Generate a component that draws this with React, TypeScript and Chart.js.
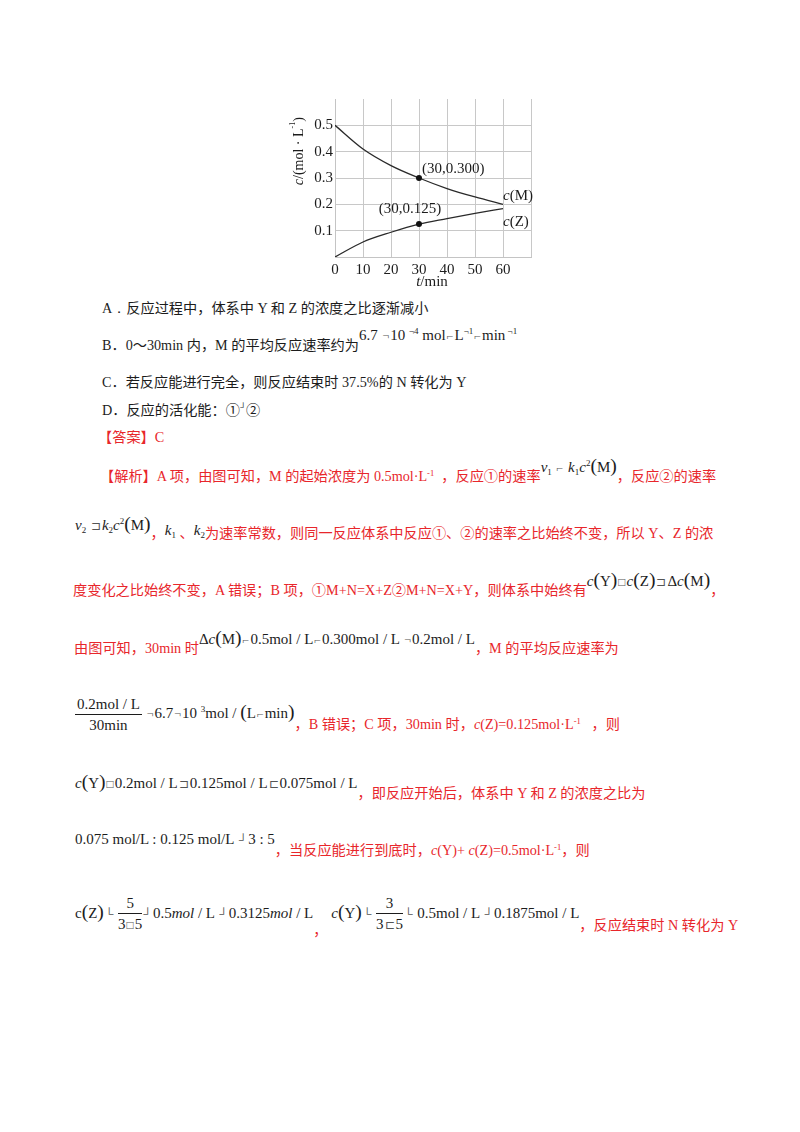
import { useEffect, useRef } from 'react';
import { Chart, registerables } from 'chart.js';

Chart.register(...registerables);

// values
const times = [0, 10, 20, 30, 40, 50, 60];
const concM = [0.5, 0.41, 0.347, 0.3, 0.26, 0.228, 0.2];
const concZ = [0, 0.057, 0.094, 0.125, 0.146, 0.166, 0.184];
const xTickLabels = [0, 10, 20, 30, 40, 50, 60];
const yTickLabels = [0.1, 0.2, 0.3, 0.4, 0.5];
const markedTime = 30;

const SERIF = "'Liberation Serif', 'Times New Roman', serif";
const FONT = "'Liberation Serif', 'Noto Sans CJK SC', serif";
const RED = '#e8262b';
const INK = '#1c1c1c';

type Part = { t: string; s?: 'i' | 'sup' };

function drawRich(ctx: CanvasRenderingContext2D, parts: Part[], x: number, y: number, size: number, align: 'left' | 'center') {
  const fontFor = (p: Part) => `${p.s === 'i' ? 'italic ' : ''}${p.s === 'sup' ? Math.round(size * 0.6) : size}px ${SERIF}`;
  let w = 0;
  parts.forEach(p => { ctx.font = fontFor(p); w += ctx.measureText(p.t).width; });
  let cx = align === 'center' ? x - w / 2 : x;
  ctx.textAlign = 'left';
  ctx.textBaseline = 'middle';
  parts.forEach(p => {
    ctx.font = fontFor(p);
    ctx.fillText(p.t, cx, p.s === 'sup' ? y - size * 0.4 : y);
    cx += ctx.measureText(p.t).width;
  });
}

const labelPlugin = {
  id: 'curveLabels',
  afterDatasetsDraw(chart: any) {
    const { ctx, chartArea, scales } = chart;
    const xs = scales.x;
    const ys = scales.y;
    const i = times.indexOf(markedTime);
    const last = times.length - 1;
    ctx.save();
    ctx.fillStyle = INK;
    drawRich(ctx, [{ t: `(${markedTime},${concM[i].toFixed(3)})` }], xs.getPixelForValue(markedTime) + 3, ys.getPixelForValue(concM[i]) - 9, 15, 'left');
    drawRich(ctx, [{ t: `(${markedTime},${concZ[i].toFixed(3)})` }], xs.getPixelForValue(markedTime) - 9, ys.getPixelForValue(concZ[i]) - 15, 15, 'center');
    drawRich(ctx, [{ t: 'c', s: 'i' }, { t: '(M)' }], xs.getPixelForValue(times[last]), ys.getPixelForValue(concM[last]) - 8, 15, 'left');
    drawRich(ctx, [{ t: 'c', s: 'i' }, { t: '(Z)' }], xs.getPixelForValue(times[last]), ys.getPixelForValue(concZ[last]) + 14, 15, 'left');

    drawRich(ctx, [{ t: 't', s: 'i' }, { t: '/min' }], (chartArea.left + chartArea.right) / 2 - 1, chartArea.bottom + 25, 15, 'center');
    ctx.translate(chartArea.left - 36, chartArea.top + (chartArea.bottom - chartArea.top) * 0.33);
    ctx.rotate(-Math.PI / 2);
    drawRich(ctx, [{ t: 'c', s: 'i' }, { t: '/(mol · L' }, { t: '-1', s: 'sup' }, { t: ')' }], 0, 0, 14, 'center');
    ctx.restore();
  },
};

function ConcentrationChart() {
  const canvasRef = useRef<HTMLCanvasElement>(null);
  const chartRef = useRef<Chart | null>(null);

  useEffect(() => {
    if (!canvasRef.current) return;
    const ctx = canvasRef.current.getContext('2d');
    if (!ctx) return;
    if (chartRef.current) chartRef.current.destroy();

    const pointSize = (c: any) => (times[c.dataIndex] === markedTime ? 3 : 0);

    chartRef.current = new Chart(ctx, {
      type: 'line',
      data: {
        datasets: [
          {
            label: 'c(M)',
            data: times.map((t, k) => ({ x: t, y: concM[k] })),
            borderColor: '#2a2a2a',
            borderWidth: 1.3,
            cubicInterpolationMode: 'monotone',
            pointRadius: pointSize,
            pointBackgroundColor: '#111',
            pointBorderWidth: 0,
          },
          {
            label: 'c(Z)',
            data: times.map((t, k) => ({ x: t, y: concZ[k] })),
            borderColor: '#2a2a2a',
            borderWidth: 1.3,
            cubicInterpolationMode: 'monotone',
            pointRadius: pointSize,
            pointBackgroundColor: '#111',
            pointBorderWidth: 0,
          },
        ],
      },
      options: {
        animation: false,
        responsive: true,
        maintainAspectRatio: false,
        layout: { padding: { top: 7, right: 7, left: 0, bottom: 0 } },
        plugins: {
          legend: { display: false },
          tooltip: { enabled: false },
        },
        scales: {
          x: {
            type: 'linear',
            min: 0,
            max: 70,
            afterFit: (s: any) => { s.height = 31; },
            border: { color: '#c4c4c4' },
            grid: { color: '#c8c8c8', drawTicks: false },
            ticks: {
              stepSize: 10,
              padding: 4,
              color: INK,
              maxRotation: 0,
              font: { family: SERIF, size: 15 },
              callback: (v: any) => (xTickLabels.includes(Number(v)) ? String(v) : ''),
            },
          },
          y: {
            min: 0,
            max: 0.6,
            afterFit: (s: any) => { s.width = 47; },
            border: { color: '#c4c4c4' },
            grid: {
              drawTicks: false,
              color: (c: any) => (c.tick && c.tick.value > 0.55 ? 'rgba(0,0,0,0)' : '#c8c8c8'),
            },
            ticks: {
              stepSize: 0.1,
              padding: 2,
              color: INK,
              font: { family: SERIF, size: 15 },
              callback: (v: any) => (yTickLabels.some(t => Math.abs(t - Number(v)) < 1e-6) ? Number(v).toFixed(1) : ''),
            },
          },
        },
      },
      plugins: [labelPlugin],
    });

    return () => {
      if (chartRef.current) {
        chartRef.current.destroy();
        chartRef.current = null;
      }
    };
  }, []);

  return (
    <div style={{ position: 'absolute', left: 288, top: 88, width: 250, height: 200 }}>
      <canvas ref={canvasRef}></canvas>
    </div>
  );
}

// ---- text helpers ----
function Line({ y, x, children }: { y: number; x: number; children: any }) {
  return (
    <div style={{ position: 'absolute', top: y - 10, left: x, height: 20, display: 'flex', alignItems: 'center', whiteSpace: 'pre', fontFamily: FONT, fontSize: 14.2, lineHeight: '20px' }}>
      {children}
    </div>
  );
}
function R({ children, dy = 0 }: { children: any; dy?: number }) {
  return <span style={{ color: RED, transform: `translateY(${dy}px)` }}>{children}</span>;
}
function F({ children, dy = 0 }: { children: any; dy?: number }) {
  return <span style={{ color: INK, fontFamily: SERIF, fontSize: 15, transform: `translateY(${dy}px)` }}>{children}</span>;
}
function K({ children, color = INK }: { children: any; color?: string }) {
  return <span style={{ color, fontFamily: SERIF }}>{children}</span>;
}
const I = ({ children }: { children: any }) => <i style={{ fontFamily: SERIF, fontStyle: 'italic' }}>{children}</i>;
const Sup = ({ children }: { children: any }) => (
  <span style={{ fontSize: '0.6em', position: 'relative', top: '-0.6em', lineHeight: 0 }}>{children}</span>
);
const Sub = ({ children }: { children: any }) => (
  <span style={{ fontSize: '0.6em', position: 'relative', top: '0.35em', lineHeight: 0 }}>{children}</span>
);
const P = ({ children }: { children: any }) => <span style={{ fontSize: '1.3em', lineHeight: 0 }}>{children}</span>;
const G = ({ children }: { children: any }) => <span style={{ fontSize: '0.8em', color: '#555', margin: '0 1px' }}>{children}</span>;
function Frac({ n, d, dy = 0 }: { n: any; d: any; dy?: number }) {
  return (
    <span style={{ display: 'inline-flex', flexDirection: 'column', alignItems: 'center', color: INK, fontFamily: SERIF, fontSize: 15, lineHeight: '18px', transform: `translateY(${dy}px)` }}>
      <span style={{ padding: '0 2px 1px' }}>{n}</span>
      <span style={{ borderTop: `1px solid ${INK}`, alignSelf: 'stretch', textAlign: 'center', paddingTop: 1 }}>{d}</span>
    </span>
  );
}

export default function App() {
  return (
    <div style={{ position: 'absolute', left: 0, top: 0, width: 800, height: 1132, background: '#fff', overflow: 'hidden' }}>
      <ConcentrationChart />

      <Line y={308} x={102}><K>A．</K><span style={{ color: INK }}>反应过程中，体系中 Y 和 Z 的浓度之比逐渐减小</span></Line>
      <Line y={345} x={102}>
        <span style={{ color: INK }}>B．0～30min 内，M 的平均反应速率约为</span>
        <F dy={-10}>6.7 <G>¬</G>10 <Sup>¬4</Sup> mol<G>⌐</G>L<Sup>¬1</Sup><G>⌐</G>min<Sup> ¬1</Sup></F>
      </Line>
      <Line y={382} x={102}><span style={{ color: INK }}>C．若反应能进行完全，则反应结束时 37.5%的 N 转化为 Y</span></Line>
      <Line y={410} x={102}><span style={{ color: INK }}>D．反应的活化能：①<Sup>┘</Sup>②</span></Line>
      <Line y={437} x={98}><R>【答案】C</R></Line>

      <Line y={476} x={100}>
        <R>【解析】A 项，由图可知，M 的起始浓度为 0.5mol·L<Sup>-1</Sup>  ，反应①的速率</R>
        <F dy={-9}><I>v</I><Sub>1</Sub> <G>⌐</G> <I>k</I><Sub>1</Sub><I>c</I><Sup>2</Sup><P>(</P>M<P>)</P></F>
        <R>，反应②的速率</R>
      </Line>
      <Line y={533} x={75}>
        <F dy={-8}><I>v</I><Sub>2</Sub> <G>⊐</G><I>k</I><Sub>2</Sub><I>c</I><Sup>2</Sup><P>(</P>M<P>)</P></F>
        <R>，</R>
        <F dy={-3}><I>k</I><Sub>1</Sub></F>
        <R> 、</R>
        <F dy={-3}><I>k</I><Sub>2</Sub></F>
        <R>为速率常数，则同一反应体系中反应①、②的速率之比始终不变，所以 Y、Z 的浓</R>
      </Line>
      <Line y={590} x={73}>
        <R>度变化之比始终不变，A 错误；B 项，①M+N=X+Z②M+N=X+Y，则体系中始终有</R>
        <F dy={-9}><I>c</I><P>(</P>Y<P>)</P><G>□</G><I>c</I><P>(</P>Z<P>)</P><G>⊐</G>Δ<I>c</I><P>(</P>M<P>)</P></F>
        <R>，</R>
      </Line>
      <Line y={648} x={74}>
        <R>由图可知，30min 时</R>
        <F dy={-9}>Δ<I>c</I><P>(</P>M<P>)</P><G>⌐</G>0.5mol / L<G>⌐</G>0.300mol / L <G>¬</G>0.2mol / L</F>
        <R>，M 的平均反应速率为</R>
      </Line>
      <Line y={724} x={75}>
        <Frac n="0.2mol / L" d="30min" dy={-10} />
        <F dy={-11}> <G>¬</G>6.7<G>¬</G>10 <Sup>3</Sup>mol / <P>(</P>L<G>⌐</G>min<P>)</P></F>
        <R>，B 错误；C 项，30min 时，<I>c</I>(Z)=0.125mol·L<Sup>-1</Sup>   ，则</R>
      </Line>
      <Line y={793} x={75}>
        <F dy={-10}><I>c</I><P>(</P>Y<P>)</P><G>□</G>0.2mol / L<G>⊐</G>0.125mol / L<G>⊏</G>0.075mol / L</F>
        <R>，即反应开始后，体系中 Y 和 Z 的浓度之比为</R>
      </Line>
      <Line y={850} x={75}>
        <F dy={-11}>0.075 mol/L : 0.125 mol/L <G>┘</G>3 : 5</F>
        <R>，当反应能进行到底时，<I>c</I>(Y)+ <I>c</I>(Z)=0.5mol·L<Sup>-1</Sup>，则</R>
      </Line>
      <Line y={925} x={75}>
        <F dy={-12}>c<P>(</P>Z<P>)</P><G>└</G> </F>
        <Frac n="5" d={<span>3<G>□</G>5</span>} dy={-11} />
        <F dy={-12}><G>┘</G>0.5<I>mol</I> / L <G>┘</G>0.3125<I>mol</I> / L</F>
        <R dy={5}>，</R>
        <F dy={-12}> <I>c</I><P>(</P>Y<P>)</P><G>└</G> </F>
        <Frac n="3" d={<span>3<G>⊏</G>5</span>} dy={-11} />
        <F dy={-12}><G>└</G> 0.5mol / L <G>┘</G>0.1875mol / L</F>
        <R>，反应结束时 N 转化为 Y</R>
      </Line>
    </div>
  );
}
